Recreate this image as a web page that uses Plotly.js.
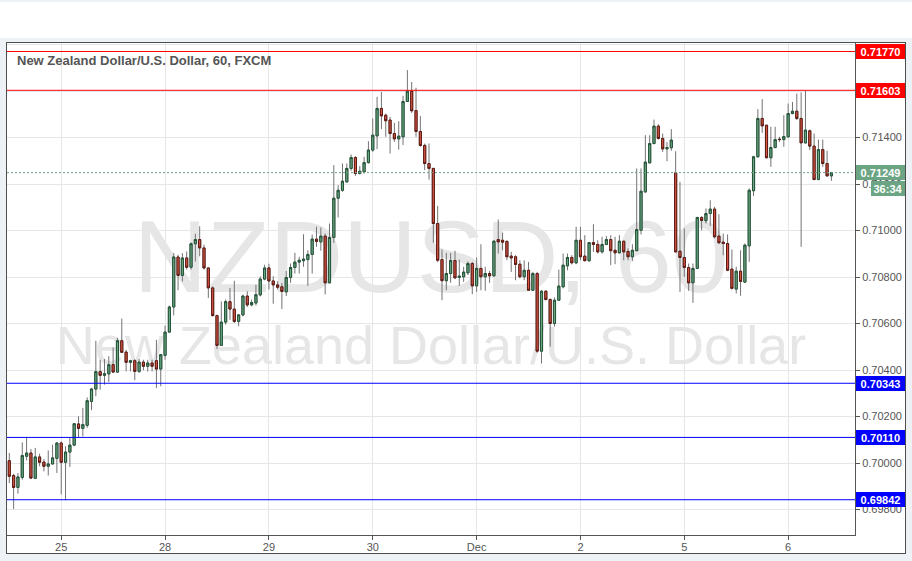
<!DOCTYPE html>
<html><head><meta charset="utf-8">
<script src="https://cdn.plot.ly/plotly-3.0.1.min.js"></script>
<style>
html,body{margin:0;padding:0;width:912px;height:561px;background:#eef1f5;overflow:hidden;}
#top{position:absolute;left:0;top:2px;width:912px;height:36px;background:#ffffff;}
#frame{position:absolute;left:6px;top:42px;width:898px;height:510px;border:1px solid #4e4e4e;background:#ffffff;}
#chart{position:absolute;left:0;top:0;width:898px;height:520px;}
</style></head><body>
<div id="top"></div>
<div id="frame"><div id="chart"></div></div>
<script>
// ---- data (hourly NZD/USD, FXCM) ----
const open = [
0.70010,0.69946,0.69895,0.69938,0.70029,0.70043,0.69934,0.70026,0.70004,0.69986,
0.69996,0.70020,0.70086,0.70003,0.70047,0.70077,0.70168,0.70149,0.70162,0.70265,
0.70318,0.70393,0.70377,0.70383,0.70423,0.70391,0.70526,0.70477,0.70433,0.70440,
0.70394,0.70434,0.70416,0.70430,0.70440,0.70404,0.70463,0.70563,0.70671,0.70886,
0.70807,0.70882,0.70842,0.70943,0.70961,0.70925,0.70839,0.70753,0.70634,0.70506,
0.70606,0.70694,0.70662,0.70609,0.70637,0.70718,0.70680,0.70688,0.70723,0.70791,
0.70839,0.70783,0.70766,0.70758,0.70736,0.70798,0.70841,0.70864,0.70870,0.70875,
0.70897,0.70963,0.70951,0.70976,0.70775,0.70970,0.71139,0.71173,0.71209,0.71267,
0.71314,0.71245,0.71252,0.71292,0.71346,0.71407,0.71525,0.71496,0.71475,0.71417,
0.71394,0.71403,0.71555,0.71599,0.71516,0.71426,0.71366,0.71288,0.71267,0.71030,
0.70875,0.70784,0.70815,0.70871,0.70798,0.70801,0.70818,0.70858,0.70762,0.70837,
0.70801,0.70815,0.70805,0.70961,0.70958,0.70953,0.70890,0.70887,0.70855,0.70801,
0.70829,0.70743,0.70815,0.70481,0.70739,0.70703,0.70600,0.70700,0.70758,0.70848,
0.70884,0.70861,0.70958,0.70890,0.70870,0.70948,0.70940,0.70908,0.70940,0.70961,
0.70915,0.70904,0.70954,0.70910,0.70887,0.70913,0.71001,0.71166,0.71291,0.71374,
0.71449,0.71396,0.71351,0.71356,0.71248,0.70911,0.70884,0.70841,0.70775,0.70837,
0.71056,0.71042,0.71073,0.71092,0.70976,0.70950,0.70944,0.70834,0.70748,0.70825,
0.70778,0.70934,0.71171,0.71317,0.71482,0.71453,0.71313,0.71357,0.71393,0.71391,
0.71403,0.71503,0.71513,0.71482,0.71377,0.71429,0.71363,0.71219,0.71348,0.71288,
0.71235];
const high = [
0.70043,0.69954,0.69957,0.70089,0.70112,0.70060,0.70065,0.70040,0.70017,0.70054,
0.70079,0.70089,0.70093,0.70072,0.70108,0.70172,0.70201,0.70237,0.70282,0.70323,
0.70526,0.70444,0.70447,0.70459,0.70497,0.70538,0.70621,0.70487,0.70444,0.70447,
0.70447,0.70444,0.70444,0.70444,0.70530,0.70466,0.70591,0.70677,0.70903,0.70896,
0.70903,0.70910,0.70949,0.70986,0.71018,0.70939,0.70839,0.70760,0.70638,0.70695,
0.70703,0.70753,0.70784,0.70641,0.70724,0.70738,0.70703,0.70767,0.70803,0.70853,
0.70857,0.70803,0.70781,0.70774,0.70826,0.70858,0.70904,0.70887,0.70984,0.70915,
0.70983,0.71016,0.71013,0.70987,0.71030,0.71281,0.71195,0.71288,0.71288,0.71327,
0.71320,0.71277,0.71317,0.71384,0.71482,0.71575,0.71596,0.71503,0.71489,0.71463,
0.71470,0.71579,0.71690,0.71639,0.71614,0.71492,0.71374,0.71374,0.71270,0.71106,
0.70918,0.70904,0.70904,0.70913,0.70875,0.70844,0.70867,0.70865,0.70884,0.70941,
0.70844,0.70826,0.70958,0.71047,0.70991,0.70958,0.70908,0.70894,0.70872,0.70872,
0.70865,0.70822,0.70822,0.70743,0.70743,0.70708,0.70712,0.70832,0.70901,0.70901,
0.70894,0.71016,0.71016,0.70980,0.70951,0.71027,0.70958,0.70973,0.70976,0.70980,
0.70973,0.70980,0.70954,0.70923,0.70941,0.71267,0.71267,0.71410,0.71410,0.71477,
0.71457,0.71417,0.71381,0.71436,0.71341,0.71209,0.71009,0.70858,0.70858,0.71059,
0.71062,0.71095,0.71130,0.71102,0.71070,0.70987,0.70983,0.70918,0.70844,0.70915,
0.70944,0.71181,0.71321,0.71522,0.71565,0.71453,0.71446,0.71446,0.71403,0.71496,
0.71546,0.71553,0.71589,0.71594,0.71601,0.71434,0.71417,0.71391,0.71391,0.71343,
0.71252];
const low = [
0.69914,0.69802,0.69868,0.69928,0.70011,0.69934,0.69931,0.69986,0.69964,0.69946,
0.69993,0.69957,0.69865,0.69840,0.69983,0.70072,0.70108,0.70115,0.70151,0.70227,
0.70287,0.70315,0.70337,0.70348,0.70387,0.70387,0.70473,0.70394,0.70394,0.70356,
0.70387,0.70399,0.70394,0.70394,0.70323,0.70330,0.70444,0.70559,0.70635,0.70743,
0.70781,0.70832,0.70832,0.70867,0.70889,0.70832,0.70710,0.70631,0.70490,0.70505,
0.70595,0.70616,0.70602,0.70588,0.70631,0.70671,0.70674,0.70677,0.70717,0.70786,
0.70746,0.70685,0.70746,0.70662,0.70718,0.70775,0.70815,0.70815,0.70844,0.70762,
0.70815,0.70930,0.70913,0.70725,0.70772,0.70947,0.71056,0.71166,0.71206,0.71257,
0.71235,0.71241,0.71245,0.71288,0.71338,0.71350,0.71436,0.71403,0.71331,0.71381,
0.71348,0.71368,0.71553,0.71506,0.71403,0.71360,0.71260,0.71219,0.70947,0.70864,
0.70700,0.70743,0.70775,0.70794,0.70762,0.70779,0.70808,0.70726,0.70736,0.70743,
0.70741,0.70775,0.70801,0.70901,0.70915,0.70872,0.70822,0.70786,0.70794,0.70786,
0.70741,0.70741,0.70474,0.70428,0.70700,0.70500,0.70586,0.70700,0.70751,0.70829,
0.70854,0.70855,0.70872,0.70868,0.70865,0.70908,0.70901,0.70901,0.70937,0.70851,
0.70855,0.70901,0.70872,0.70872,0.70868,0.70913,0.70983,0.71163,0.71288,0.71371,
0.71391,0.71338,0.71298,0.71343,0.70905,0.70736,0.70801,0.70741,0.70689,0.70834,
0.71001,0.71030,0.71020,0.70966,0.70944,0.70894,0.70825,0.70746,0.70729,0.70719,
0.70775,0.70865,0.71148,0.71314,0.71420,0.71310,0.71274,0.71353,0.71381,0.71360,
0.71400,0.71500,0.71475,0.70930,0.71374,0.71346,0.71217,0.71217,0.71274,0.71231,
0.71214];
const close = [
0.69943,0.69895,0.69940,0.70032,0.70043,0.69935,0.70026,0.70003,0.69986,0.69996,
0.70022,0.70086,0.70003,0.70047,0.70077,0.70169,0.70149,0.70165,0.70268,0.70318,
0.70393,0.70377,0.70384,0.70423,0.70391,0.70526,0.70476,0.70433,0.70440,0.70394,
0.70434,0.70416,0.70430,0.70416,0.70404,0.70466,0.70563,0.70671,0.70886,0.70807,
0.70882,0.70842,0.70943,0.70961,0.70925,0.70839,0.70753,0.70634,0.70506,0.70606,
0.70694,0.70662,0.70609,0.70637,0.70718,0.70680,0.70690,0.70724,0.70791,0.70839,
0.70783,0.70766,0.70756,0.70738,0.70798,0.70841,0.70864,0.70872,0.70877,0.70897,
0.70963,0.70953,0.70976,0.70775,0.70970,0.71139,0.71173,0.71212,0.71267,0.71314,
0.71245,0.71255,0.71292,0.71346,0.71410,0.71525,0.71493,0.71472,0.71417,0.71394,
0.71406,0.71555,0.71599,0.71515,0.71426,0.71366,0.71288,0.71267,0.71030,0.70872,
0.70784,0.70815,0.70871,0.70796,0.70804,0.70821,0.70858,0.70762,0.70837,0.70801,
0.70815,0.70805,0.70954,0.70951,0.70950,0.70887,0.70882,0.70854,0.70801,0.70829,
0.70743,0.70815,0.70481,0.70739,0.70703,0.70600,0.70700,0.70761,0.70851,0.70884,
0.70861,0.70958,0.70887,0.70870,0.70948,0.70940,0.70908,0.70940,0.70961,0.70913,
0.70904,0.70954,0.70908,0.70887,0.70915,0.71004,0.71169,0.71294,0.71374,0.71449,
0.71396,0.71351,0.71357,0.71389,0.70908,0.70884,0.70841,0.70775,0.70837,0.71056,
0.71043,0.71073,0.71092,0.70973,0.70947,0.70944,0.70829,0.70751,0.70825,0.70781,
0.70937,0.71173,0.71317,0.71482,0.71450,0.71313,0.71357,0.71391,0.71391,0.71404,
0.71503,0.71513,0.71482,0.71377,0.71432,0.71363,0.71219,0.71348,0.71288,0.71235,
0.71249];
const dayTickIndex = [12, 36, 60, 84, 108, 132, 156, 180];
const dayTickText = ['25', '28', '29', '30', 'Dec', '2', '5', '6'];
const resistanceLevels = [0.71770, 0.71603];
const supportLevels = [0.70343, 0.70110, 0.69842];
const lastPrice = 0.71249;
const countdown = '36:34';
const titleText = 'New Zealand Dollar/U.S. Dollar, 60, FXCM';
const watermarkSymbol = 'NZDUSD, 60';
const watermarkName = 'New Zealand Dollar/U.S. Dollar';

// ---- styling ----
const UP = '#6ba583', DOWN = '#d75442', UP_BORDER = '#225437', DOWN_BORDER = '#5b1a13', WICK = '#737375';
const RED = '#ff0000', BLUE = '#0000ff';
const FONT = 'Arial, "Liberation Sans", sans-serif';

const x = open.map((_, i) => i);
const bodyTop = open.map((o, i) => Math.max(o, close[i]));
const bodyBot = open.map((o, i) => Math.min(o, close[i]));

const wicks = {
  type: 'candlestick', x: x, open: open, high: high, low: low, close: close,
  increasing: {line: {color: WICK, width: 1}, fillcolor: UP},
  decreasing: {line: {color: WICK, width: 1}, fillcolor: DOWN},
  hoverinfo: 'skip', showlegend: false
};
const bodies = {
  type: 'candlestick', x: x, open: open, high: bodyTop, low: bodyBot, close: close,
  increasing: {line: {color: UP_BORDER, width: 1}, fillcolor: UP},
  decreasing: {line: {color: DOWN_BORDER, width: 1}, fillcolor: DOWN},
  hoverinfo: 'skip', showlegend: false
};

const shapes = [];
const annotations = [];
function levelLine(v, color, dash) {
  shapes.push({type: 'line', xref: 'paper', x0: 0, x1: 1, yref: 'y', y0: v, y1: v,
    line: {color: color, width: 1, dash: dash || 'solid'}, layer: 'above'});
}
function priceTag(v, color, text, yshift, w) {
  annotations.push({xref: 'paper', x: 1, xanchor: 'left', xshift: 1, yref: 'y', y: v,
    yanchor: 'middle', yshift: yshift || 0, text: text, showarrow: false,
    bgcolor: color, borderwidth: 0, borderpad: 0, width: w || 49, height: 15,
    font: {family: FONT, size: 11, color: '#ffffff', weight: 'bold'}});
}
resistanceLevels.forEach(v => { levelLine(v, RED); priceTag(v, RED, v.toFixed(5)); });
supportLevels.forEach(v => { levelLine(v, BLUE); priceTag(v, BLUE, v.toFixed(5)); });
levelLine(lastPrice, UP, '2px,2px');
priceTag(lastPrice, UP, lastPrice.toFixed(5));
annotations.push({xref: 'paper', x: 1, xanchor: 'left', xshift: 16, yref: 'y', y: lastPrice,
  yanchor: 'middle', yshift: -16, text: countdown, showarrow: false, bgcolor: UP,
  borderwidth: 0, borderpad: 0, width: 34, height: 15,
  font: {family: FONT, size: 11, color: '#ffffff', weight: 'bold'}});

// title in top-left
annotations.push({xref: 'paper', yref: 'paper', x: 0.0094, y: 0.9654, xanchor: 'left', yanchor: 'middle',
  text: titleText, showarrow: false,
  font: {family: FONT, size: 13, color: '#555555', weight: 'bold'}});

// watermark (behind the candles)
shapes.push({type: 'rect', xref: 'paper', yref: 'paper', x0: 0, x1: 1, y0: 0.571, y1: 0.601,
  line: {width: 0}, fillcolor: 'rgba(0,0,0,0)', layer: 'below',
  label: {text: watermarkSymbol, textposition: 'middle center',
    font: {family: FONT, size: 102, color: '#e6e6e6'}}});
shapes.push({type: 'rect', xref: 'paper', yref: 'paper', x0: 0, x1: 1, y0: 0.386, y1: 0.406,
  line: {width: 0}, fillcolor: 'rgba(0,0,0,0)', layer: 'below',
  label: {text: watermarkName, textposition: 'middle center',
    font: {family: FONT, size: 54, color: '#e6e6e6'}}});

const layout = {
  width: 898, height: 520,
  margin: {l: 0, r: 50, t: 0, b: 28},
  paper_bgcolor: 'rgba(0,0,0,0)', plot_bgcolor: 'rgba(0,0,0,0)',
  showlegend: false, dragmode: false,
  xaxis: {
    range: [-0.53, 195.45], rangeslider: {visible: false},
    tickvals: dayTickIndex, ticktext: dayTickText,
    showgrid: true, gridcolor: '#e6e6e6', gridwidth: 1,
    showline: true, linecolor: '#555555', linewidth: 1,
    ticks: 'outside', ticklen: 4, tickcolor: '#555555', ticklabelstandoff: -2,
    tickfont: {family: FONT, size: 11, color: '#555555'}, zeroline: false, fixedrange: true
  },
  yaxis: {
    side: 'right', range: [0.696903, 0.718065],
    tick0: 0.698, dtick: 0.002, tickformat: '.5f',
    showgrid: true, gridcolor: '#e6e6e6', gridwidth: 1,
    showline: true, linecolor: '#555555', linewidth: 1,
    ticks: 'outside', ticklen: 4, tickcolor: '#555555',
    tickfont: {family: FONT, size: 11, color: '#555555'}, zeroline: false, fixedrange: true
  },
  boxgap: 0.3,
  shapes: shapes, annotations: annotations
};
Plotly.newPlot('chart', [wicks, bodies], layout, {displayModeBar: false, staticPlot: true});
</script>
</body></html>
